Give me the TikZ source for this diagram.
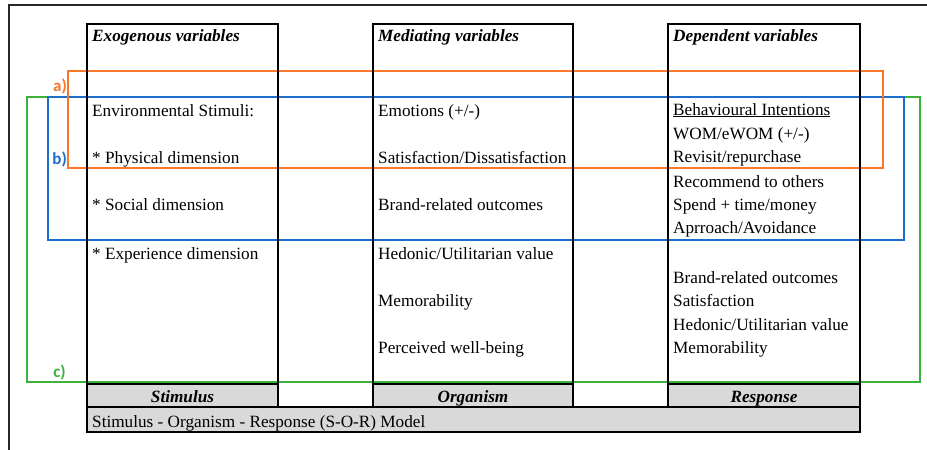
\documentclass[tikz,border=0pt]{standalone}
\usepackage{fontspec}
\setmainfont{Liberation Serif}
\newfontfamily\lblfont{Carlito}
\definecolor{cOrange}{RGB}{250,118,40}
\definecolor{cBlue}{RGB}{28,110,205}
\definecolor{cGreen}{RGB}{60,178,60}
\definecolor{cGray}{RGB}{217,217,217}
\definecolor{cFrame}{RGB}{40,40,40}
\tikzset{
  txt/.style={anchor=base west, inner sep=0pt, font=\fontsize{17.2}{20}\selectfont},
  hdr/.style={txt, font=\fontsize{17.2}{20}\selectfont\bfseries\itshape},
  ftr/.style={anchor=base, inner sep=0pt, font=\fontsize{17.2}{20}\selectfont\bfseries\itshape},
  lbl/.style={anchor=base east, inner sep=0pt, font=\fontsize{17}{20}\selectfont\lblfont\bfseries},
  colbox/.style={draw=black, line width=2.4pt},
  grbox/.style={draw=black, line width=2.4pt, fill=cGray},
  region/.style={line width=2.2pt},
}
\begin{document}
\begin{tikzpicture}[x=1pt,y=-1pt]
\useasboundingbox (0,0) rectangle (927,450);
% outer frame (top and left edges)
\coordinate (f1) at (927,5);
\coordinate (f2) at (9,5);
\coordinate (f3) at (9,450);
\draw[cFrame, line width=1.4pt] (f1) -- (f2) -- (f3);
% coloured regions
\draw[region, cGreen] (27,97) rectangle (920,382);
\draw[region, cBlue] (48,97) rectangle (904,240);
\draw[region, cOrange] (68,71) rectangle (883,168);
\node[lbl, text=cOrange] (la) at (67,91) {a)};
\node[lbl, text=cBlue] (lb) at (67,164) {b)};
\node[lbl, text=cGreen] (lc) at (66,377) {c)};
% footers
\draw[grbox] (87,384) rectangle (278,407);
\draw[grbox] (373,384) rectangle (573,407);
\draw[grbox] (668,384) rectangle (860,407);
\draw[grbox] (87,407) rectangle (860,432);
% columns
\draw[colbox] (87,24) rectangle (278,407);
\draw[colbox] (373,24) rectangle (573,407);
\draw[colbox] (668,24) rectangle (860,407);
% headers
\node[hdr] (h1) at (92,41) {Exogenous variables};
\node[hdr] (h2) at (378,41) {Mediating variables};
\node[hdr] (h3) at (673,41) {Dependent variables};
% column 1
\node[txt] (a1) at (92,116) {Environmental Stimuli:};
\node[txt] (a2) at (92,163) {* Physical dimension};
\node[txt] (a3) at (92,210) {* Social dimension};
\node[txt] (a4) at (92,259) {* Experience dimension};
% column 2
\node[txt] (b1) at (378,116) {Emotions (+/-)};
\node[txt] (b2) at (378,163) {Satisfaction/Dissatisfaction};
\node[txt] (b3) at (378,210) {Brand-related outcomes};
\node[txt] (b4) at (378,259) {Hedonic/Utilitarian value};
\node[txt] (b5) at (378,306) {Memorability};
\node[txt] (b6) at (378,353) {Perceived well-being};
% column 3
\node[txt] (c1) at (673,115) {\underline{Behavioural Intentions}};
\node[txt] (c2) at (673,139) {WOM/eWOM (+/-)};
\node[txt] (c3) at (673,162) {Revisit/repurchase};
\node[txt] (c4) at (673,187) {Recommend to others};
\node[txt] (c5) at (673,210) {Spend + time/money};
\node[txt] (c6) at (673,233) {Aprroach/Avoidance};
\node[txt] (c7) at (673,283) {Brand-related outcomes};
\node[txt] (c8) at (673,306) {Satisfaction};
\node[txt] (c9) at (673,330) {Hedonic/Utilitarian value};
\node[txt] (c10) at (673,353) {Memorability};
% footer labels
\node[ftr] (s) at (182.5,402) {Stimulus};
\node[ftr] (o) at (473,402) {Organism};
\node[ftr] (r) at (764,402) {Response};
\node[txt] (m) at (92,427) {Stimulus - Organism - Response (S-O-R) Model};
\end{tikzpicture}
\end{document}
